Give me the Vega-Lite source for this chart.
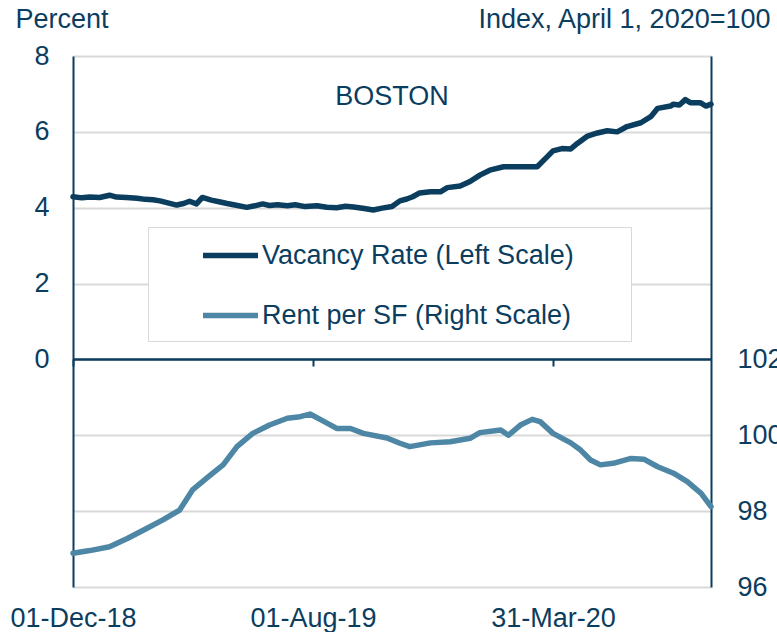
{
  "$schema": "https://vega.github.io/schema/vega-lite/v6.json",
  "width": 638,
  "height": 531,
  "autosize": {"type": "none"},
  "padding": {"left": 73, "top": 56, "right": 66, "bottom": 45},
  "background": "white",
  "config": {
    "view": {"stroke": null},
    "font": "Liberation Sans",
    "axis": {"labelFont": "Liberation Sans", "titleFont": "Liberation Sans"}
  },
  "title": {
    "text": "BOSTON",
    "anchor": "middle",
    "frame": "group",
    "font": "Liberation Sans",
    "fontSize": 27,
    "fontWeight": "normal",
    "color": "#0b3d5f",
    "baseline": "alphabetic",
    "offset": 0,
    "dy": 127
  },
  "data": {
    "values": [
      {"date": "2018-12-01", "series": "Vacancy Rate (Left Scale)", "value": 4.29},
      {"date": "2018-12-10", "series": "Vacancy Rate (Left Scale)", "value": 4.26},
      {"date": "2018-12-18", "series": "Vacancy Rate (Left Scale)", "value": 4.28},
      {"date": "2018-12-28", "series": "Vacancy Rate (Left Scale)", "value": 4.27},
      {"date": "2019-01-07", "series": "Vacancy Rate (Left Scale)", "value": 4.33},
      {"date": "2019-01-14", "series": "Vacancy Rate (Left Scale)", "value": 4.28},
      {"date": "2019-01-24", "series": "Vacancy Rate (Left Scale)", "value": 4.27},
      {"date": "2019-02-04", "series": "Vacancy Rate (Left Scale)", "value": 4.25},
      {"date": "2019-02-12", "series": "Vacancy Rate (Left Scale)", "value": 4.22},
      {"date": "2019-02-20", "series": "Vacancy Rate (Left Scale)", "value": 4.21},
      {"date": "2019-02-27", "series": "Vacancy Rate (Left Scale)", "value": 4.18},
      {"date": "2019-03-08", "series": "Vacancy Rate (Left Scale)", "value": 4.12},
      {"date": "2019-03-16", "series": "Vacancy Rate (Left Scale)", "value": 4.07},
      {"date": "2019-03-23", "series": "Vacancy Rate (Left Scale)", "value": 4.11},
      {"date": "2019-03-29", "series": "Vacancy Rate (Left Scale)", "value": 4.17},
      {"date": "2019-04-05", "series": "Vacancy Rate (Left Scale)", "value": 4.10},
      {"date": "2019-04-11", "series": "Vacancy Rate (Left Scale)", "value": 4.27},
      {"date": "2019-04-20", "series": "Vacancy Rate (Left Scale)", "value": 4.20},
      {"date": "2019-04-29", "series": "Vacancy Rate (Left Scale)", "value": 4.15},
      {"date": "2019-05-06", "series": "Vacancy Rate (Left Scale)", "value": 4.11},
      {"date": "2019-05-14", "series": "Vacancy Rate (Left Scale)", "value": 4.07},
      {"date": "2019-05-26", "series": "Vacancy Rate (Left Scale)", "value": 4.01},
      {"date": "2019-06-03", "series": "Vacancy Rate (Left Scale)", "value": 4.05},
      {"date": "2019-06-11", "series": "Vacancy Rate (Left Scale)", "value": 4.10},
      {"date": "2019-06-18", "series": "Vacancy Rate (Left Scale)", "value": 4.06},
      {"date": "2019-06-26", "series": "Vacancy Rate (Left Scale)", "value": 4.08},
      {"date": "2019-07-06", "series": "Vacancy Rate (Left Scale)", "value": 4.05},
      {"date": "2019-07-14", "series": "Vacancy Rate (Left Scale)", "value": 4.08},
      {"date": "2019-07-24", "series": "Vacancy Rate (Left Scale)", "value": 4.03},
      {"date": "2019-08-05", "series": "Vacancy Rate (Left Scale)", "value": 4.05},
      {"date": "2019-08-15", "series": "Vacancy Rate (Left Scale)", "value": 4.01},
      {"date": "2019-08-25", "series": "Vacancy Rate (Left Scale)", "value": 4.00},
      {"date": "2019-09-03", "series": "Vacancy Rate (Left Scale)", "value": 4.04},
      {"date": "2019-09-11", "series": "Vacancy Rate (Left Scale)", "value": 4.02},
      {"date": "2019-09-22", "series": "Vacancy Rate (Left Scale)", "value": 3.98},
      {"date": "2019-10-01", "series": "Vacancy Rate (Left Scale)", "value": 3.94},
      {"date": "2019-10-10", "series": "Vacancy Rate (Left Scale)", "value": 3.99},
      {"date": "2019-10-20", "series": "Vacancy Rate (Left Scale)", "value": 4.03},
      {"date": "2019-10-28", "series": "Vacancy Rate (Left Scale)", "value": 4.18},
      {"date": "2019-11-04", "series": "Vacancy Rate (Left Scale)", "value": 4.23},
      {"date": "2019-11-10", "series": "Vacancy Rate (Left Scale)", "value": 4.29},
      {"date": "2019-11-17", "series": "Vacancy Rate (Left Scale)", "value": 4.39},
      {"date": "2019-11-28", "series": "Vacancy Rate (Left Scale)", "value": 4.42},
      {"date": "2019-12-08", "series": "Vacancy Rate (Left Scale)", "value": 4.42},
      {"date": "2019-12-15", "series": "Vacancy Rate (Left Scale)", "value": 4.53},
      {"date": "2019-12-28", "series": "Vacancy Rate (Left Scale)", "value": 4.57},
      {"date": "2020-01-07", "series": "Vacancy Rate (Left Scale)", "value": 4.69},
      {"date": "2020-01-17", "series": "Vacancy Rate (Left Scale)", "value": 4.86},
      {"date": "2020-01-27", "series": "Vacancy Rate (Left Scale)", "value": 4.99},
      {"date": "2020-02-10", "series": "Vacancy Rate (Left Scale)", "value": 5.08},
      {"date": "2020-02-25", "series": "Vacancy Rate (Left Scale)", "value": 5.08},
      {"date": "2020-03-15", "series": "Vacancy Rate (Left Scale)", "value": 5.08},
      {"date": "2020-03-25", "series": "Vacancy Rate (Left Scale)", "value": 5.34},
      {"date": "2020-03-31", "series": "Vacancy Rate (Left Scale)", "value": 5.50},
      {"date": "2020-04-09", "series": "Vacancy Rate (Left Scale)", "value": 5.56},
      {"date": "2020-04-18", "series": "Vacancy Rate (Left Scale)", "value": 5.55},
      {"date": "2020-04-25", "series": "Vacancy Rate (Left Scale)", "value": 5.70},
      {"date": "2020-05-05", "series": "Vacancy Rate (Left Scale)", "value": 5.89},
      {"date": "2020-05-15", "series": "Vacancy Rate (Left Scale)", "value": 5.97},
      {"date": "2020-05-25", "series": "Vacancy Rate (Left Scale)", "value": 6.03},
      {"date": "2020-06-04", "series": "Vacancy Rate (Left Scale)", "value": 6.00},
      {"date": "2020-06-14", "series": "Vacancy Rate (Left Scale)", "value": 6.14},
      {"date": "2020-06-28", "series": "Vacancy Rate (Left Scale)", "value": 6.24},
      {"date": "2020-07-08", "series": "Vacancy Rate (Left Scale)", "value": 6.40},
      {"date": "2020-07-15", "series": "Vacancy Rate (Left Scale)", "value": 6.62},
      {"date": "2020-07-28", "series": "Vacancy Rate (Left Scale)", "value": 6.68},
      {"date": "2020-07-31", "series": "Vacancy Rate (Left Scale)", "value": 6.73},
      {"date": "2020-08-06", "series": "Vacancy Rate (Left Scale)", "value": 6.71},
      {"date": "2020-08-12", "series": "Vacancy Rate (Left Scale)", "value": 6.85},
      {"date": "2020-08-17", "series": "Vacancy Rate (Left Scale)", "value": 6.77},
      {"date": "2020-08-27", "series": "Vacancy Rate (Left Scale)", "value": 6.77},
      {"date": "2020-09-02", "series": "Vacancy Rate (Left Scale)", "value": 6.68},
      {"date": "2020-09-07", "series": "Vacancy Rate (Left Scale)", "value": 6.73},
      {"date": "2018-12-01", "series": "Rent per SF (Right Scale)", "value": 96.89},
      {"date": "2018-12-18", "series": "Rent per SF (Right Scale)", "value": 96.96},
      {"date": "2019-01-07", "series": "Rent per SF (Right Scale)", "value": 97.06},
      {"date": "2019-01-25", "series": "Rent per SF (Right Scale)", "value": 97.28},
      {"date": "2019-02-14", "series": "Rent per SF (Right Scale)", "value": 97.55},
      {"date": "2019-03-02", "series": "Rent per SF (Right Scale)", "value": 97.77},
      {"date": "2019-03-19", "series": "Rent per SF (Right Scale)", "value": 98.03},
      {"date": "2019-04-01", "series": "Rent per SF (Right Scale)", "value": 98.56},
      {"date": "2019-04-19", "series": "Rent per SF (Right Scale)", "value": 98.95},
      {"date": "2019-05-02", "series": "Rent per SF (Right Scale)", "value": 99.22},
      {"date": "2019-05-16", "series": "Rent per SF (Right Scale)", "value": 99.70},
      {"date": "2019-06-01", "series": "Rent per SF (Right Scale)", "value": 100.05},
      {"date": "2019-06-18", "series": "Rent per SF (Right Scale)", "value": 100.27},
      {"date": "2019-07-06", "series": "Rent per SF (Right Scale)", "value": 100.45},
      {"date": "2019-07-19", "series": "Rent per SF (Right Scale)", "value": 100.49},
      {"date": "2019-07-29", "series": "Rent per SF (Right Scale)", "value": 100.56},
      {"date": "2019-08-11", "series": "Rent per SF (Right Scale)", "value": 100.38},
      {"date": "2019-08-25", "series": "Rent per SF (Right Scale)", "value": 100.18},
      {"date": "2019-09-08", "series": "Rent per SF (Right Scale)", "value": 100.18},
      {"date": "2019-09-21", "series": "Rent per SF (Right Scale)", "value": 100.05},
      {"date": "2019-10-15", "series": "Rent per SF (Right Scale)", "value": 99.93},
      {"date": "2019-10-28", "series": "Rent per SF (Right Scale)", "value": 99.79},
      {"date": "2019-11-07", "series": "Rent per SF (Right Scale)", "value": 99.70},
      {"date": "2019-11-28", "series": "Rent per SF (Right Scale)", "value": 99.80},
      {"date": "2019-12-18", "series": "Rent per SF (Right Scale)", "value": 99.83},
      {"date": "2020-01-07", "series": "Rent per SF (Right Scale)", "value": 99.92},
      {"date": "2020-01-17", "series": "Rent per SF (Right Scale)", "value": 100.07},
      {"date": "2020-02-07", "series": "Rent per SF (Right Scale)", "value": 100.14},
      {"date": "2020-02-15", "series": "Rent per SF (Right Scale)", "value": 100.00},
      {"date": "2020-02-27", "series": "Rent per SF (Right Scale)", "value": 100.27},
      {"date": "2020-03-10", "series": "Rent per SF (Right Scale)", "value": 100.42},
      {"date": "2020-03-18", "series": "Rent per SF (Right Scale)", "value": 100.36},
      {"date": "2020-03-31", "series": "Rent per SF (Right Scale)", "value": 100.05},
      {"date": "2020-04-18", "series": "Rent per SF (Right Scale)", "value": 99.80},
      {"date": "2020-04-28", "series": "Rent per SF (Right Scale)", "value": 99.61},
      {"date": "2020-05-08", "series": "Rent per SF (Right Scale)", "value": 99.35},
      {"date": "2020-05-18", "series": "Rent per SF (Right Scale)", "value": 99.22},
      {"date": "2020-05-31", "series": "Rent per SF (Right Scale)", "value": 99.26},
      {"date": "2020-06-18", "series": "Rent per SF (Right Scale)", "value": 99.39},
      {"date": "2020-07-01", "series": "Rent per SF (Right Scale)", "value": 99.37},
      {"date": "2020-07-15", "series": "Rent per SF (Right Scale)", "value": 99.17},
      {"date": "2020-07-31", "series": "Rent per SF (Right Scale)", "value": 99.00},
      {"date": "2020-08-14", "series": "Rent per SF (Right Scale)", "value": 98.78},
      {"date": "2020-08-28", "series": "Rent per SF (Right Scale)", "value": 98.47},
      {"date": "2020-09-07", "series": "Rent per SF (Right Scale)", "value": 98.12}
    ]
  },
  "layer": [
    {
      "transform": [{"filter": "datum.series == 'Vacancy Rate (Left Scale)'"}],
      "mark": {"type": "line", "strokeWidth": 5.5, "strokeJoin": "round", "strokeCap": "round"},
      "encoding": {
        "x": {
          "field": "date", "type": "temporal",
          "scale": {"type": "utc", "domain": [{"year": 2018, "month": 12, "date": 1, "utc": true}, {"year": 2020, "month": 9, "date": 7, "utc": true}]},
          "axis": {
            "orient": "bottom",
            "values": [{"year": 2018, "month": 12, "date": 1, "utc": true}, {"year": 2019, "month": 8, "date": 1, "utc": true}, {"year": 2020, "month": 3, "date": 31, "utc": true}],
            "format": "%d-%b-%y",
            "title": null, "grid": false, "domain": false, "ticks": false,
            "labelPadding": 18, "labelFontSize": 27, "labelColor": "#0b3d5f",
            "labelFlush": false, "labelOverlap": false, "labelBaseline": "top"
          }
        },
        "y": {
          "field": "value", "type": "quantitative",
          "scale": {"domain": [-6, 8], "nice": false, "zero": false},
          "axis": {
            "orient": "left",
            "values": [-6, -4, -2, 0, 2, 4, 6, 8],
            "labelExpr": "datum.value >= 0 ? datum.label : ''",
            "grid": true, "gridColor": "#d9d9d9", "gridWidth": 2,
            "domainColor": "#0b3d5f", "domainWidth": 2,
            "ticks": false, "labelPadding": 24, "labelFontSize": 27, "labelColor": "#0b3d5f",
            "title": "Percent", "titleAngle": 0, "titleX": -58, "titleY": -29,
            "titleAlign": "left", "titleBaseline": "alphabetic", "titleFontSize": 27,
            "titleFontWeight": "normal", "titleColor": "#0b3d5f"
          }
        },
        "color": {
          "field": "series", "type": "nominal",
          "scale": {"domain": ["Vacancy Rate (Left Scale)", "Rent per SF (Right Scale)"], "range": ["#0b3d5f", "#4e87a5"]},
          "legend": {
            "orient": "none", "legendX": 75, "legendY": 171, "title": null,
            "padding": 12, "strokeColor": "#d9d9d9", "fillColor": "white",
            "symbolType": "M-2,0H2", "symbolSize": 756, "symbolStrokeWidth": 5.5,
            "symbolOffset": 54, "labelOffset": 15,
            "labelFontSize": 27, "labelColor": "#0b3d5f", "labelFont": "Liberation Sans",
            "labelLimit": 1000, "rowPadding": 30,
            "labelExpr": "datum.label + '\u00a0\u00a0\u00a0\u00a0\u00a0\u00a0\u200b'"
          }
        }
      }
    },
    {
      "transform": [{"filter": "datum.series == 'Rent per SF (Right Scale)'"}],
      "mark": {"type": "line", "strokeWidth": 5.5, "strokeJoin": "round", "strokeCap": "round"},
      "encoding": {
        "x": {
          "field": "date", "type": "temporal",
          "axis": {
            "orient": "bottom", "offset": -228,
            "values": [{"year": 2018, "month": 12, "date": 1, "utc": true}, {"year": 2019, "month": 8, "date": 1, "utc": true}, {"year": 2020, "month": 3, "date": 31, "utc": true}],
            "labels": false, "title": null, "grid": false,
            "domain": true, "domainColor": "#0b3d5f", "domainWidth": 2.5,
            "ticks": true, "tickSize": 7, "tickColor": "#0b3d5f", "tickWidth": 2
          }
        },
        "y": {
          "field": "value", "type": "quantitative",
          "scale": {"domain": [96, 110], "nice": false, "zero": false},
          "axis": {
            "orient": "right",
            "values": [96, 98, 100, 102],
            "grid": false,
            "domainColor": "#0b3d5f", "domainWidth": 2,
            "ticks": false, "labelPadding": 26, "labelFontSize": 27, "labelColor": "#0b3d5f",
            "title": "Index, April 1, 2020=100", "titleAngle": 0, "titleX": 59, "titleY": -29,
            "titleAlign": "right", "titleBaseline": "alphabetic", "titleFontSize": 27,
            "titleFontWeight": "normal", "titleColor": "#0b3d5f"
          }
        },
        "color": {"field": "series", "type": "nominal"}
      }
    }
  ],
  "resolve": {"scale": {"y": "independent"}, "axis": {"x": "independent"}}
}
